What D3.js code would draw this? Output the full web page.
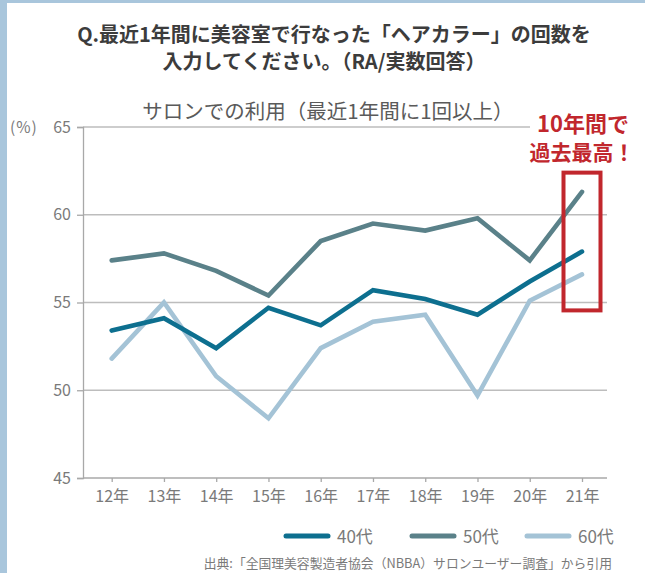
<!DOCTYPE html>
<html>
<head>
<meta charset="utf-8">
<script src="https://cdn.jsdelivr.net/npm/d3@7"></script>
<style>
  body { margin: 0; background: #fff; }
  text { font-family: "Noto Sans CJK JP", "Noto Sans", sans-serif; }
</style>
</head>
<body>
<div id="canvas"></div>
<script>
const years = ["12年", "13年", "14年", "15年", "16年", "17年", "18年", "19年", "20年", "21年"];
const s40 = [53.4, 54.1, 52.4, 54.7, 53.7, 55.7, 55.2, 54.3, 56.2, 57.9];
const s50 = [57.4, 57.8, 56.8, 55.4, 58.5, 59.5, 59.1, 59.8, 57.4, 61.3];
const s60 = [51.8, 55.0, 50.8, 48.4, 52.4, 53.9, 54.3, 49.7, 55.1, 56.6];
const yTicks = [45, 50, 55, 60, 65];

const series = [
    { name: "40代", values: s40, color: "#0d6f8f" },
    { name: "50代", values: s50, color: "#5a8189" },
    { name: "60代", values: s60, color: "#a4c3d6" }
];

const width = 645, height = 573;
const svg = d3.select("#canvas").append("svg")
    .attr("width", width)
    .attr("height", height);

// light blue frame on left and top
svg.append("rect").attr("x", 0).attr("y", 0).attr("width", 7).attr("height", height).attr("fill", "#a9c6dc");
svg.append("rect").attr("x", 0).attr("y", 0).attr("width", width).attr("height", 3).attr("fill", "#a9c6dc");

// titles
svg.append("text").attr("x", 334).attr("y", 42).attr("text-anchor", "middle")
    .attr("font-size", 20).attr("font-weight", "bold").attr("fill", "#3c3c3c")
    .text("Q.最近1年間に美容室で行なった「ヘアカラー」の回数を");
svg.append("text").attr("x", 324).attr("y", 69).attr("text-anchor", "middle")
    .attr("font-size", 20).attr("font-weight", "bold").attr("fill", "#3c3c3c")
    .text("入力してください。（RA/実数回答）");
svg.append("text").attr("x", 328).attr("y", 119).attr("text-anchor", "middle")
    .attr("font-size", 20.5).attr("fill", "#5a5a5a")
    .text("サロンでの利用（最近1年間に1回以上）");

const left = 83, right = 607;

const x = d3.scalePoint()
    .domain(years)
    .range([111.7, 582]);

const y = d3.scaleLinear()
    .domain([45, 65])
    .range([478, 127]);

// gridlines
const g = svg.append("g");
g.selectAll("line.grid").data(yTicks.filter(d => d > 45)).enter()
    .append("line")
    .attr("class", "grid")
    .attr("x1", left)
    .attr("x2", d => d === 65 ? 530 : right)
    .attr("y1", d => y(d))
    .attr("y2", d => y(d))
    .attr("stroke", "#bdbdbd")
    .attr("stroke-width", 1.3);

// y axis
const yAxis = g.append("g")
    .attr("transform", `translate(${left},0)`)
    .call(d3.axisLeft(y).tickValues(yTicks).tickSize(6).tickPadding(6));
yAxis.select(".domain").attr("stroke", "#a8a8a8").attr("stroke-width", 1.3);
yAxis.selectAll(".tick line").attr("stroke", "#a8a8a8").attr("stroke-width", 1.3);
yAxis.selectAll(".tick text").attr("font-size", 16).attr("fill", "#7a7a7a")
    .attr("font-family", "'Noto Sans CJK JP', sans-serif");

svg.append("text").attr("x", 10).attr("y", y(65) + 5.5)
    .attr("font-size", 15.5).attr("fill", "#7a7a7a")
    .attr("letter-spacing", 1).text("(%)");

// x axis
const xAxis = g.append("g")
    .attr("transform", `translate(0,${y(45)})`)
    .call(d3.axisBottom(x).tickSize(4).tickPadding(9).tickSizeOuter(0));
xAxis.select(".domain").attr("d", `M${left},0H${right}`)
    .attr("stroke", "#a8a8a8").attr("stroke-width", 1.3);
xAxis.selectAll(".tick line").attr("stroke", "#a8a8a8").attr("stroke-width", 1.3);
xAxis.selectAll(".tick text").attr("font-size", 16).attr("fill", "#7a7a7a")
    .attr("font-family", "'Noto Sans CJK JP', sans-serif");

// lines
const line = d3.line()
    .x((d, i) => x(years[i]))
    .y(d => y(d));

svg.selectAll("path.series").data(series.slice().reverse()).enter()
    .append("path")
    .attr("class", "series")
    .attr("d", d => line(d.values))
    .attr("fill", "none")
    .attr("stroke", d => d.color)
    .attr("stroke-width", 4.6)
    .attr("stroke-linejoin", "miter")
    .attr("stroke-linecap", "round");

// highlight box for 21年
const last = years[years.length - 1];
svg.append("rect")
    .attr("x", x(last) - 18.5)
    .attr("y", y(62.4))
    .attr("width", 37)
    .attr("height", y(54.55) - y(62.4))
    .attr("fill", "none")
    .attr("stroke", "#c1272d")
    .attr("stroke-width", 4);

svg.append("text").attr("x", x(last) + 1).attr("y", 132).attr("text-anchor", "middle")
    .attr("font-size", 22).attr("font-weight", "bold").attr("fill", "#c1272d")
    .text("10年間で");
svg.append("text").attr("x", x(last)).attr("y", 160).attr("text-anchor", "middle")
    .attr("font-size", 21).attr("font-weight", "bold").attr("fill", "#c1272d")
    .text("過去最高！");

// legend
const legendX = [286, 412, 527];
const lg = svg.selectAll("g.legend").data(series).enter()
    .append("g")
    .attr("class", "legend")
    .attr("transform", (d, i) => `translate(${legendX[i]},536)`);
lg.append("line")
    .attr("x1", 0).attr("x2", 42)
    .attr("stroke", d => d.color)
    .attr("stroke-width", 5)
    .attr("stroke-linecap", "round");
lg.append("text")
    .attr("x", 51).attr("y", 6.5)
    .attr("font-size", 17).attr("fill", "#7a7a7a")
    .text(d => d.name);

// source
svg.append("text").attr("x", 612).attr("y", 568).attr("text-anchor", "end")
    .attr("font-size", 12.8).attr("fill", "#7a7a7a")
    .text("出典:「全国理美容製造者協会（NBBA）サロンユーザー調査」から引用");
</script>
</body>
</html>
